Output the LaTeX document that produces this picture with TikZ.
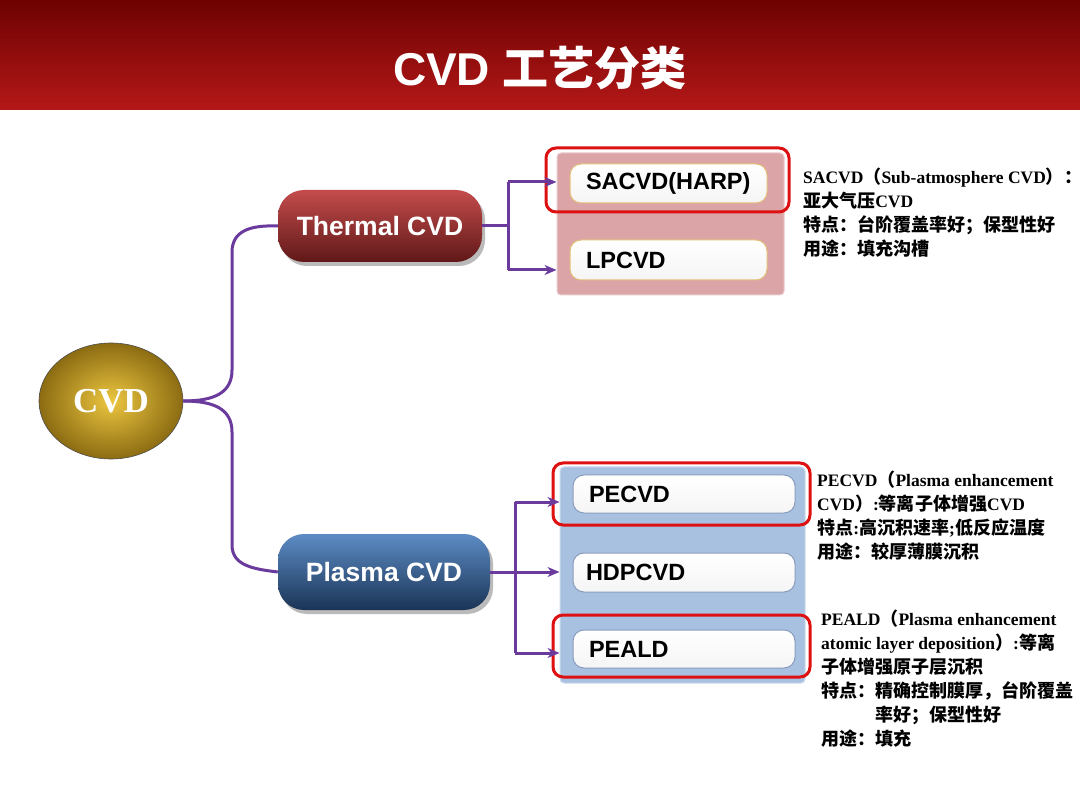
\documentclass[tikz,border=0pt]{standalone}
\usepackage{fontspec}
\setmainfont{Liberation Serif}
\setsansfont{Liberation Sans}
\newfontfamily\cjk{Noto Sans CJK SC}
\newfontfamily\cjkn[Scale=1.03]{Noto Sans CJK SC}
\usetikzlibrary{arrows.meta,shapes.geometric,shadows}
\newcommand\zh[1]{{\cjkn #1}}
\definecolor{hdtop}{HTML}{6E0202}
\definecolor{hdbot}{HTML}{B41818}
\definecolor{purp}{HTML}{6A3A9C}
\definecolor{pinkc}{HTML}{DBA5A8}
\definecolor{pinkb}{HTML}{EACBCB}
\definecolor{bluec}{HTML}{A9C1E0}
\definecolor{blueb}{HTML}{CCDAEC}
\definecolor{hired}{HTML}{DD1111}
\definecolor{tanb}{HTML}{E2BE78}
\definecolor{greyb}{HTML}{8A9CBE}
\tikzset{
  conn/.style={draw=purp, line width=3pt},
  arr/.style={conn, -{Stealth[length=12pt,width=10pt]}},
  pill/.style={rounded corners=26pt, text=white, font=\sffamily\bfseries\fontsize{26.5}{30}\selectfont,
     drop shadow={shadow xshift=3pt, shadow yshift=-4pt, opacity=0.45, fill=black!60}},
  container/.style={rounded corners=4pt, draw, line width=1pt},
  itembox/.style={rounded corners=11pt, draw, line width=1pt, top color=white, bottom color=black!4,
     align=left, inner xsep=16pt, inner ysep=0pt, font=\sffamily\bfseries\fontsize{23.5}{26}\selectfont},
  hilite/.style={draw=hired, line width=3pt, rounded corners=10pt},
  note/.style={anchor=north west, inner sep=0pt, align=left, font=\bfseries\fontsize{17.5}{24}\selectfont}
}
\begin{document}
\begin{tikzpicture}[x=1pt,y=-1pt]
\useasboundingbox (0,0) rectangle (1080,810);
\fill[white] (0,0) rectangle (1080,810);
\shade[top color=hdtop, bottom color=hdbot] (0,0) rectangle (1080,110);
\node[text=white] (title) at (540,68) {\sffamily\bfseries\fontsize{46}{50}\selectfont CVD {\cjk\bfseries 工艺分类}};

% root
\node[ellipse, minimum width=144pt, minimum height=116pt, draw=black!70, line width=0.6pt,
      inner color={rgb,255:red,236;green,198;blue,64}, outer color={rgb,255:red,140;green,108;blue,18},
      text=white, font=\bfseries\fontsize{35}{38}\selectfont] (cvd) at (111,401) {CVD};

% level 1
\node[pill, minimum width=204pt, minimum height=72pt, top color={rgb,255:red,196;green,76;blue,76},
      middle color={rgb,255:red,146;green,42;blue,42}, bottom color={rgb,255:red,96;green,24;blue,24}] (thermal) at (380,226) {Thermal CVD};
\node[pill, minimum width=212pt, minimum height=76pt, top color={rgb,255:red,92;green,140;blue,196},
      middle color={rgb,255:red,48;green,90;blue,140}, bottom color={rgb,255:red,26;green,52;blue,86}] (plasma) at (384,572) {Plasma CVD};

% brace connectors
\coordinate (bu) at (232,370);
\coordinate (bl) at (232,432);
\draw[conn] (cvd.east) .. controls (214,401) and (232,393) .. (bu) -- (232,252) .. controls (232,230) and (252,225) .. (thermal.west);
\draw[conn] (cvd.east) .. controls (214,401) and (232,409) .. (bl) -- (232,545) .. controls (232,565) and (252,569) .. (plasma.west);

% containers
\node[container, fill=pinkc, draw=pinkb, minimum width=227pt, minimum height=142pt] (pink) at (670.5,224) {};
\node[container, fill=bluec, draw=blueb, minimum width=245pt, minimum height=216pt] (blue) at (682.5,575) {};

% item boxes
\node[itembox, draw=tanb, text width=165pt, minimum height=39pt] (sacvd) at (668.5,183.5) {SACVD(HARP)};
\node[itembox, draw=tanb, text width=165pt, minimum height=40pt] (lpcvd) at (668.5,260) {LPCVD};
\node[itembox, draw=greyb, text width=190pt, minimum height=38pt] (pecvd) at (684,494) {PECVD};
\node[itembox, draw=greyb, minimum height=39pt, inner xsep=13pt, text width=196pt] (hdpcvd) at (684,572.5) {HDPCVD};
\node[itembox, draw=greyb, text width=190pt, minimum height=38pt] (peald) at (684,649) {PEALD};

% highlights
\node[hilite, minimum width=243pt, minimum height=64pt] (h1) at (667.5,180) {};
\node[hilite, minimum width=257pt, minimum height=62pt] (h2) at (681.5,494) {};
\node[hilite, minimum width=257pt, minimum height=62pt] (h3) at (681.5,646) {};

% thermal branches
\coordinate (tj) at (508,226);
\coordinate (tt) at (508,182);
\coordinate (tb) at (508,270);
\draw[conn] (thermal.east) -- (tj);
\draw[conn] (tt) -- (tb);
\draw[arr] (tt) -- (pink.west |- tt);
\draw[arr] (tb) -- (pink.west |- tb);

% plasma branches
\coordinate (pt) at (515,502);
\coordinate (pb) at (515,653);
\draw[conn] (pt) -- (pb);
\draw[arr] (pt) -- (blue.west |- pt);
\draw[arr] (plasma.east) -- (blue.west |- plasma.east);
\draw[arr] (pb) -- (blue.west |- pb);

% notes
\node[note] (n1) at (803,168) {SACVD\zh{（}Sub-atmosphere CVD\zh{）：}\\
\zh{亚大气压}CVD\\
\zh{特点：台阶覆盖率好；保型性好}\\
\zh{用途：填充沟槽}};
\node[note] (n2) at (817,471) {PECVD\zh{（}Plasma enhancement\\
CVD\zh{）}:\zh{等离子体增强}CVD\\
\zh{特点}:\zh{高沉积速率};\zh{低反应温度}\\
\zh{用途：较厚薄膜沉积}};
\node[note] (n3) at (821,610) {PEALD\zh{（}Plasma enhancement\\
atomic layer deposition\zh{）}:\zh{等离}\\
\zh{子体增强原子层沉积}\\
\zh{特点：精确控制膜厚，台阶覆盖}\\
\hspace*{54pt}\zh{率好；保型性好}\\
\zh{用途：填充}};
\end{tikzpicture}
\end{document}
